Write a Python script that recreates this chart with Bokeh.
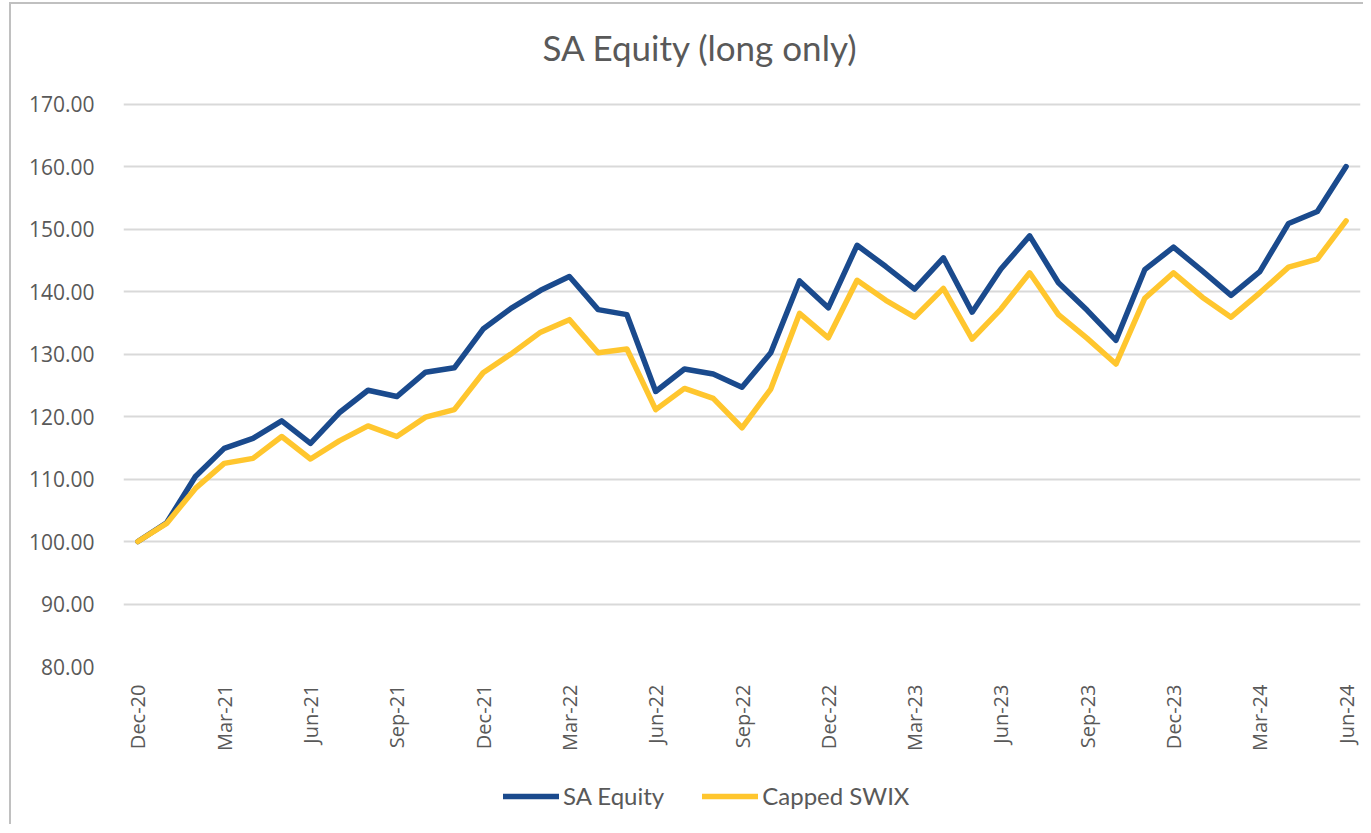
from bokeh.plotting import figure
from bokeh.layouts import column
from bokeh.models import (FixedTicker, NumeralTickFormatter, Range1d, Legend, LegendItem,
                          Label)
from bokeh.embed import file_html
from bokeh.resources import INLINE
import math

months = ["Dec-20", "Jan-21", "Feb-21", "Mar-21", "Apr-21", "May-21", "Jun-21", "Jul-21",
          "Aug-21", "Sep-21", "Oct-21", "Nov-21", "Dec-21", "Jan-22", "Feb-22", "Mar-22",
          "Apr-22", "May-22", "Jun-22", "Jul-22", "Aug-22", "Sep-22", "Oct-22", "Nov-22",
          "Dec-22", "Jan-23", "Feb-23", "Mar-23", "Apr-23", "May-23", "Jun-23", "Jul-23",
          "Aug-23", "Sep-23", "Oct-23", "Nov-23", "Dec-23", "Jan-24", "Feb-24", "Mar-24",
          "Apr-24", "May-24", "Jun-24"]

sa_equity = [100.0, 103.0, 110.4, 114.9, 116.5, 119.3, 115.7, 120.6,
             124.2, 123.2, 127.1, 127.8, 134.0, 137.4, 140.2, 142.4,
             137.1, 136.3, 124.0, 127.6, 126.8, 124.7, 130.2, 141.7,
             137.4, 147.4, 144.0, 140.4, 145.4, 136.7, 143.6, 148.9,
             141.4, 137.0, 132.2, 143.5, 147.1, 143.3, 139.4, 143.2,
             150.9, 152.8, 160.0]

capped_swix = [100.0, 102.9, 108.5, 112.5, 113.3, 116.8, 113.2, 116.1,
               118.5, 116.8, 119.9, 121.1, 127.0, 130.1, 133.5, 135.5,
               130.2, 130.8, 121.1, 124.5, 122.9, 118.2, 124.4, 136.5,
               132.6, 141.8, 138.6, 135.9, 140.5, 132.4, 137.2, 143.0,
               136.3, 132.5, 128.4, 138.9, 143.0, 139.1, 135.9, 139.8,
               143.9, 145.2, 151.3]

tick_labels = ["Dec-20", "Mar-21", "Jun-21", "Sep-21", "Dec-21", "Mar-22", "Jun-22",
               "Sep-22", "Dec-22", "Mar-23", "Jun-23", "Sep-23", "Dec-23", "Mar-24", "Jun-24"]
y_ticks = [80, 90, 100, 110, 120, 130, 140, 150, 160, 170]

title_text = "SA Equity (long only)"
series_names = ["SA Equity", "Capped SWIX"]
colors = ["#1A4A8D", "#FFC62E"]

x_idx = list(range(len(months)))
tick_pos = [months.index(t) for t in tick_labels]


def strip(h):
    f = figure(width=1352, height=h, output_backend="svg", toolbar_location=None,
               x_axis_location=None, y_axis_location=None, min_border=0,
               x_range=Range1d(0, 1), y_range=Range1d(0, 1))
    f.outline_line_color = None
    f.xgrid.visible = False
    f.ygrid.visible = False
    f.border_fill_color = "white"
    return f


# title strip
tf = strip(70)
tf.add_layout(Label(x=577, y=28, x_units="screen", y_units="screen", text=title_text,
                    text_align="center", text_baseline="middle", text_font="Lato",
                    text_font_size="35px", text_color="#595959"))

# main chart
p = figure(width=1352, height=680, output_backend="svg", toolbar_location=None,
           x_range=Range1d(-0.5, len(months) - 0.5), y_range=Range1d(80, 170.25),
           min_border_left=112, min_border_right=3, min_border_top=28, min_border_bottom=87)
p.outline_line_color = None
p.background_fill_color = "white"
p.border_fill_color = "white"

p.xgrid.grid_line_color = None
p.ygrid.grid_line_color = "#d9d9d9"
p.ygrid.grid_line_width = 2
p.yaxis.ticker = FixedTicker(ticks=y_ticks)
p.yaxis.formatter = NumeralTickFormatter(format="0.00")
p.yaxis.axis_line_color = None
p.yaxis.major_tick_line_color = None
p.yaxis.minor_tick_line_color = None
p.yaxis.major_label_standoff = 23
p.yaxis.major_label_text_font = "Open Sans"
p.yaxis.major_label_text_font_size = "21px"
p.yaxis.major_label_text_color = "#595959"

p.xaxis.ticker = FixedTicker(ticks=tick_pos)
p.xaxis.major_label_overrides = {pos: lab for pos, lab in zip(tick_pos, tick_labels)}
p.xaxis.major_label_orientation = math.pi / 2
p.xaxis.axis_line_color = None
p.xaxis.major_tick_line_color = None
p.xaxis.minor_tick_line_color = None
p.xaxis.major_label_standoff = 12
p.xaxis.major_label_text_font = "Open Sans"
p.xaxis.major_label_text_font_size = "20px"
p.xaxis.major_label_text_color = "#595959"

p.line(x_idx, sa_equity, line_color=colors[0], line_width=5.5,
       line_join="round", line_cap="round")
p.line(x_idx, capped_swix, line_color=colors[1], line_width=5.5,
       line_join="round", line_cap="round")

# legend strip
lg = strip(70)
nan = float("nan")
k1 = lg.line([nan], [nan], line_color=colors[0], line_width=5.5, line_cap="round")
k2 = lg.line([nan], [nan], line_color=colors[1], line_width=5.5, line_cap="round")
legend = Legend(items=[LegendItem(label=series_names[0], renderers=[k1]),
                       LegendItem(label=series_names[1], renderers=[k2])],
                location=(380, 14), orientation="horizontal",
                glyph_width=56, glyph_height=28, label_height=28,
                label_standoff=4, spacing=38, padding=0, margin=0,
                label_text_font="Lato", label_text_font_size="24px",
                label_text_color="#595959", border_line_color=None,
                background_fill_alpha=0)
lg.add_layout(legend, "center")

layout = column(tf, p, lg, spacing=0)
layout.styles = {"border-left": "2px solid #c0c0c0", "border-top": "2px solid #c0c0c0",
                 "margin-left": "9px", "margin-top": "2px"}

open("out.html", "w").write(file_html(layout, INLINE))
